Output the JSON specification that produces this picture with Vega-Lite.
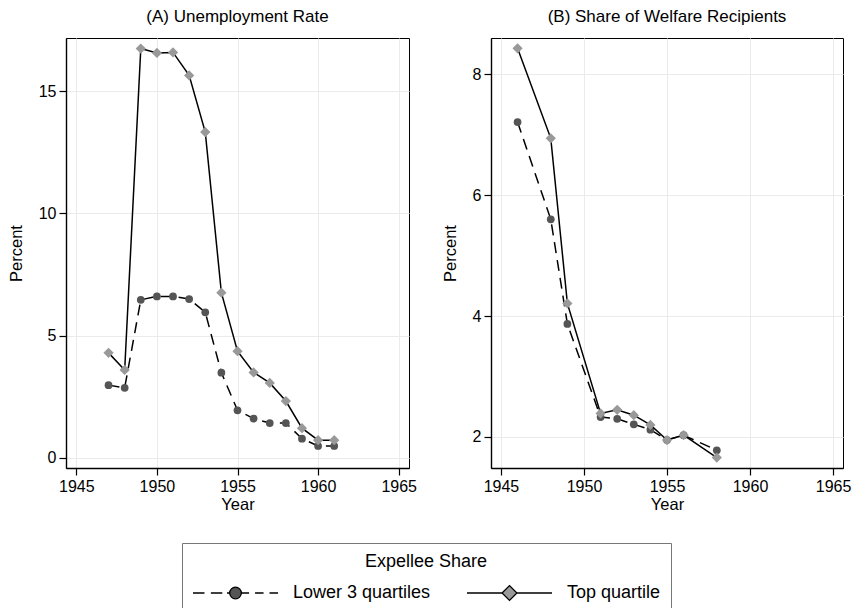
{
  "$schema": "https://vega.github.io/schema/vega-lite/v6.json",
  "padding": {"left": 8, "top": 7, "right": 0, "bottom": 0},
  "background": "white",
  "config": {
    "font": "Liberation Sans",
    "view": {"stroke": "#000", "strokeWidth": 1},
    "axis": {
      "labelFont": "Liberation Sans", "titleFont": "Liberation Sans",
      "labelFontSize": 16, "titleFontSize": 16.5, "titleFontWeight": "normal",
      "labelColor": "#000", "titleColor": "#000", "tickColor": "#000", "domainColor": "#000",
      "tickSize": 7, "tickWidth": 1.2, "domainWidth": 1.4, "labelPadding": 3,
      "gridColor": "#ebebeb", "gridWidth": 1
    },
    "title": {"font": "Liberation Sans", "fontSize": 17, "fontWeight": "normal", "color": "#000", "offset": 12}
  },
  "datasets": {
    "unemp": [
      {"year": 1947, "series": "Lower 3 quartiles", "value": 2.97},
      {"year": 1948, "series": "Lower 3 quartiles", "value": 2.86},
      {"year": 1949, "series": "Lower 3 quartiles", "value": 6.46},
      {"year": 1950, "series": "Lower 3 quartiles", "value": 6.60},
      {"year": 1951, "series": "Lower 3 quartiles", "value": 6.60},
      {"year": 1952, "series": "Lower 3 quartiles", "value": 6.49},
      {"year": 1953, "series": "Lower 3 quartiles", "value": 5.95},
      {"year": 1954, "series": "Lower 3 quartiles", "value": 3.48},
      {"year": 1955, "series": "Lower 3 quartiles", "value": 1.94},
      {"year": 1956, "series": "Lower 3 quartiles", "value": 1.60},
      {"year": 1957, "series": "Lower 3 quartiles", "value": 1.42},
      {"year": 1958, "series": "Lower 3 quartiles", "value": 1.42},
      {"year": 1959, "series": "Lower 3 quartiles", "value": 0.78},
      {"year": 1960, "series": "Lower 3 quartiles", "value": 0.48},
      {"year": 1961, "series": "Lower 3 quartiles", "value": 0.48},
      {"year": 1947, "series": "Top quartile", "value": 4.29},
      {"year": 1948, "series": "Top quartile", "value": 3.59},
      {"year": 1949, "series": "Top quartile", "value": 16.74},
      {"year": 1950, "series": "Top quartile", "value": 16.56},
      {"year": 1951, "series": "Top quartile", "value": 16.58},
      {"year": 1952, "series": "Top quartile", "value": 15.64},
      {"year": 1953, "series": "Top quartile", "value": 13.32},
      {"year": 1954, "series": "Top quartile", "value": 6.75},
      {"year": 1955, "series": "Top quartile", "value": 4.36},
      {"year": 1956, "series": "Top quartile", "value": 3.49},
      {"year": 1957, "series": "Top quartile", "value": 3.06},
      {"year": 1958, "series": "Top quartile", "value": 2.32},
      {"year": 1959, "series": "Top quartile", "value": 1.21},
      {"year": 1960, "series": "Top quartile", "value": 0.72},
      {"year": 1961, "series": "Top quartile", "value": 0.72}
    ],
    "welfare": [
      {"year": 1946, "series": "Lower 3 quartiles", "value": 7.21},
      {"year": 1948, "series": "Lower 3 quartiles", "value": 5.60},
      {"year": 1949, "series": "Lower 3 quartiles", "value": 3.87},
      {"year": 1951, "series": "Lower 3 quartiles", "value": 2.33},
      {"year": 1952, "series": "Lower 3 quartiles", "value": 2.30},
      {"year": 1953, "series": "Lower 3 quartiles", "value": 2.21},
      {"year": 1954, "series": "Lower 3 quartiles", "value": 2.12},
      {"year": 1955, "series": "Lower 3 quartiles", "value": 1.95},
      {"year": 1956, "series": "Lower 3 quartiles", "value": 2.03},
      {"year": 1958, "series": "Lower 3 quartiles", "value": 1.78},
      {"year": 1946, "series": "Top quartile", "value": 8.43},
      {"year": 1948, "series": "Top quartile", "value": 6.94},
      {"year": 1949, "series": "Top quartile", "value": 4.21},
      {"year": 1951, "series": "Top quartile", "value": 2.39},
      {"year": 1952, "series": "Top quartile", "value": 2.45},
      {"year": 1953, "series": "Top quartile", "value": 2.36},
      {"year": 1954, "series": "Top quartile", "value": 2.20},
      {"year": 1955, "series": "Top quartile", "value": 1.95},
      {"year": 1956, "series": "Top quartile", "value": 2.03},
      {"year": 1958, "series": "Top quartile", "value": 1.66}
    ]
  },
  "spacing": 25,
  "hconcat": [
    {
      "width": 343, "height": 430,
      "title": "(A) Unemployment Rate",
      "data": {"name": "unemp"},
      "encoding": {
        "x": {"field": "year", "type": "quantitative",
              "scale": {"domain": [1944.36, 1965.64], "nice": false, "zero": false},
              "axis": {"values": [1945, 1950, 1955, 1960, 1965], "format": "d", "title": "Year", "titlePadding": 2}},
        "y": {"field": "value", "type": "quantitative",
              "scale": {"domain": [-0.42, 17.17], "nice": false, "zero": false},
              "axis": {"values": [0, 5, 10, 15], "title": "Percent", "titlePadding": 13.5}}
      },
      "layer": [
        {"transform": [{"filter": "datum.series === 'Lower 3 quartiles'"}],
         "mark": {"type": "line", "color": "#000", "strokeWidth": 1.5, "strokeDash": [11, 7]}},
        {"transform": [{"filter": "datum.series === 'Lower 3 quartiles'"}],
         "mark": {"type": "point", "shape": "circle", "filled": true, "color": "#555555", "size": 60, "opacity": 1}},
        {"transform": [{"filter": "datum.series === 'Top quartile'"}],
         "mark": {"type": "line", "color": "#000", "strokeWidth": 1.5}},
        {"transform": [{"filter": "datum.series === 'Top quartile'"}],
         "mark": {"type": "point", "shape": "diamond", "filled": true, "color": "#999999", "size": 105, "opacity": 1}},
        {"transform": [{"filter": "false"}],
         "mark": {"type": "point", "filled": true, "opacity": 1, "stroke": "#000", "strokeWidth": 1.3},
         "encoding": {
           "shape": {"field": "series", "type": "nominal",
             "scale": {"domain": ["Lower 3 quartiles", "Top quartile"],
                       "range": ["M-1,0H-0.73M-0.58,0H-0.31M-0.2,0H-0.137M0.137,0H0.32M0.46,0H0.66M0.8,0H1M-0.137,0A0.137,0.137,0,1,0,0.137,0A0.137,0.137,0,1,0,-0.137,0Z",
                                 "M-1,0H-0.175M0.175,0H1M-0.175,0L0,-0.175L0.175,0L0,0.175Z"]},
             "legend": {"orient": "none", "legendX": 116, "legendY": 505, "direction": "horizontal", "columns": 2,
                        "title": "Expellee Share", "titleAnchor": "middle", "titleFontSize": 18, "titleFontWeight": "normal", "titleColor": "#000",
                        "labelFontSize": 18, "labelColor": "#000", "labelOffset": 14, "columnPadding": 35,
                        "symbolSize": 7225, "clipHeight": 26, "padding": 10, "strokeColor": "#777", "cornerRadius": 0,
                        "symbolOffset": 0, "titlePadding": 9, "fillColor": "white",
                        "symbolStrokeColor": "#000", "symbolStrokeWidth": 1.3, "symbolOpacity": 1,
                        "encode": {"symbols": {"update": {"stroke": {"value": "#000"}, "strokeWidth": {"value": 1.3}, "opacity": {"value": 1}}}}}},
           "fill": {"field": "series", "type": "nominal",
             "scale": {"domain": ["Lower 3 quartiles", "Top quartile"], "range": ["#555555", "#999999"]},
             "legend": {"orient": "none", "legendX": 116, "legendY": 505, "direction": "horizontal", "columns": 2,
                        "title": "Expellee Share", "titleAnchor": "middle", "titleFontSize": 18, "titleFontWeight": "normal", "titleColor": "#000",
                        "labelFontSize": 18, "labelColor": "#000", "labelOffset": 14, "columnPadding": 35,
                        "symbolSize": 7225, "clipHeight": 26, "padding": 10, "strokeColor": "#777", "cornerRadius": 0,
                        "symbolOffset": 0, "titlePadding": 9, "fillColor": "white",
                        "symbolStrokeColor": "#000", "symbolStrokeWidth": 1.3, "symbolOpacity": 1,
                        "encode": {"symbols": {"update": {"stroke": {"value": "#000"}, "strokeWidth": {"value": 1.3}, "opacity": {"value": 1}}}}}}
         }}
      ]
    },
    {
      "width": 352, "height": 430,
      "title": "(B) Share of Welfare Recipients",
      "data": {"name": "welfare"},
      "encoding": {
        "x": {"field": "year", "type": "quantitative",
              "scale": {"domain": [1944.4, 1965.6], "nice": false, "zero": false},
              "axis": {"values": [1945, 1950, 1955, 1960, 1965], "format": "d", "title": "Year", "titlePadding": 2}},
        "y": {"field": "value", "type": "quantitative",
              "scale": {"domain": [1.487, 8.6], "nice": false, "zero": false},
              "axis": {"values": [2, 4, 6, 8], "title": "Percent", "titlePadding": 13.5}}
      },
      "layer": [
        {"transform": [{"filter": "datum.series === 'Lower 3 quartiles'"}],
         "mark": {"type": "line", "color": "#000", "strokeWidth": 1.5, "strokeDash": [11, 7]}},
        {"transform": [{"filter": "datum.series === 'Lower 3 quartiles'"}],
         "mark": {"type": "point", "shape": "circle", "filled": true, "color": "#555555", "size": 60, "opacity": 1}},
        {"transform": [{"filter": "datum.series === 'Top quartile'"}],
         "mark": {"type": "line", "color": "#000", "strokeWidth": 1.5}},
        {"transform": [{"filter": "datum.series === 'Top quartile'"}],
         "mark": {"type": "point", "shape": "diamond", "filled": true, "color": "#999999", "size": 105, "opacity": 1}}
      ]
    }
  ]
}
